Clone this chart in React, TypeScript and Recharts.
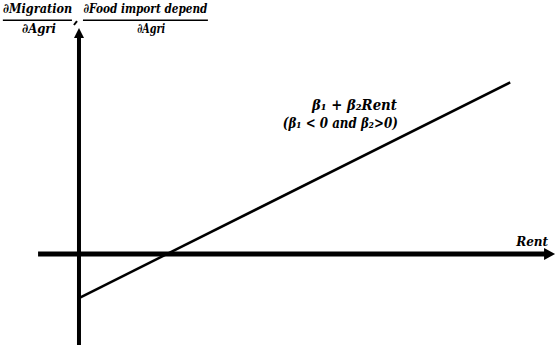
import { ComposedChart, Line, XAxis, YAxis, ReferenceLine, ReferenceDot } from 'recharts'

// line: beta1 + beta2 * Rent (beta1 < 0, beta2 > 0)
const rent = [0, 9.8]
const effect = [-1, 3.9]

// axis extents in data units
const xAxisFrom = -0.93
const xAxisTo = 10.6
const xArrowTip = 10.82
const yAxisFrom = -2.068
const yAxisTo = 4.93
const yArrowTip = 5.136

const xDomain = [-1.795, 10.841]
const yDomain = [-2.068, 5.773]

const chartData = rent.map((r, i) => ({ rent: r, effect: effect[i] }))

const font = "'DejaVu Serif', 'Times New Roman', serif"

function TextAt({ cx, cy, children, size = 13, width }: any) {
  return (
    <text
      x={cx}
      y={cy}
      textAnchor="middle"
      style={{ fontFamily: font, fontSize: size, fontWeight: 'bold', fontStyle: 'italic' }}
      fill="#000"
      textLength={width}
      lengthAdjust={width ? 'spacingAndGlyphs' : undefined}
    >
      {children}
    </text>
  )
}

export default function App() {
  return (
    <div style={{ position: 'absolute', left: 0, top: 0, background: '#fff' }}>
      <ComposedChart width={556} height={345} data={chartData} margin={{ top: 0, right: 0, bottom: 0, left: 0 }}>
        <XAxis type="number" dataKey="rent" domain={xDomain} allowDataOverflow hide />
        <YAxis type="number" domain={yDomain} allowDataOverflow hide />

        {/* axes */}
        <ReferenceLine segment={[{ x: xAxisFrom, y: 0 }, { x: xAxisTo, y: 0 }]} stroke="#000" strokeWidth={5} />
        <ReferenceLine segment={[{ x: 0, y: yAxisFrom }, { x: 0, y: yAxisTo }]} stroke="#000" strokeWidth={4} />
        <ReferenceDot
          x={xArrowTip}
          y={0}
          r={0}
          shape={(p: any) => (
            <polygon points={`${p.cx},${p.cy} ${p.cx - 11},${p.cy - 6} ${p.cx - 11},${p.cy + 6}`} fill="#000" />
          )}
        />
        <ReferenceDot
          x={0}
          y={yArrowTip}
          r={0}
          shape={(p: any) => (
            <polygon points={`${p.cx},${p.cy} ${p.cx - 5},${p.cy + 10} ${p.cx + 5},${p.cy + 10}`} fill="#000" />
          )}
        />
        <ReferenceLine segment={[{ x: -0.114, y: 5.205 }, { x: -0.045, y: 5.295 }]} stroke="#000" strokeWidth={2} />

        {/* fraction bars */}
        <ReferenceLine segment={[{ x: -1.73, y: 5.31 }, { x: -0.16, y: 5.31 }]} stroke="#000" strokeWidth={1.5} />
        <ReferenceLine segment={[{ x: 0.09, y: 5.31 }, { x: 2.93, y: 5.31 }]} stroke="#000" strokeWidth={1.5} />

        <Line
          dataKey="effect"
          stroke="#000"
          strokeWidth={2.5}
          dot={false}
          activeDot={false}
          isAnimationActive={false}
        />

        {/* labels */}
        <ReferenceDot x={-0.94} y={5.48} r={0} shape={(p: any) => <TextAt cx={p.cx} cy={p.cy} width={69}>∂Migration</TextAt>} />
        <ReferenceDot x={-0.91} y={5.02} r={0} shape={(p: any) => <TextAt cx={p.cx} cy={p.cy} width={34}>∂Agri</TextAt>} />
        <ReferenceDot x={1.51} y={5.48} r={0} shape={(p: any) => <TextAt cx={p.cx} cy={p.cy} width={124}>∂Food import depend</TextAt>} />
        <ReferenceDot x={1.64} y={5.02} r={0} shape={(p: any) => <TextAt cx={p.cx} cy={p.cy} width={28}>∂Agri</TextAt>} />
        <ReferenceDot
          x={6.26}
          y={3.27}
          r={0}
          shape={(p: any) => <TextAt cx={p.cx} cy={p.cy} size={14} width={85}>β₁ + β₂Rent</TextAt>}
        />
        <ReferenceDot
          x={5.94}
          y={2.86}
          r={0}
          shape={(p: any) => <TextAt cx={p.cx} cy={p.cy} size={14} width={115}>(β₁ &lt; 0 and β₂&gt;0)</TextAt>}
        />
        <ReferenceDot x={10.3} y={0.18} r={0} shape={(p: any) => <TextAt cx={p.cx} cy={p.cy} size={13} width={32}>Rent</TextAt>} />
      </ComposedChart>
    </div>
  )
}
